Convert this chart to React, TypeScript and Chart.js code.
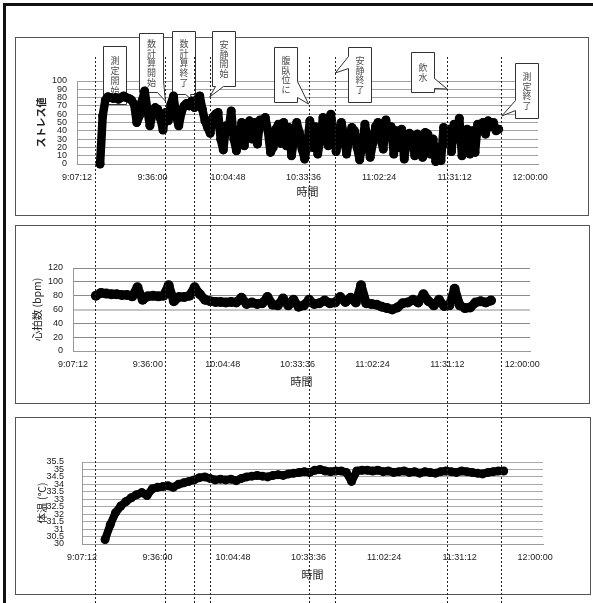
import React, { useEffect, useRef } from 'react';
import { Chart, registerables } from 'chart.js';

Chart.register(...registerables);

// ---------------- data ----------------
const X_TICK_LABELS = ['9:07:12', '9:36:00', '10:04:48', '10:33:36', '11:02:24', '11:31:12', '12:00:00'];
const X_AXIS_START = '9:07:12';
const X_AXIS_END = '12:03:00';
const X_TITLE = '時間';

const STRESS_START = '9:16:00';
const STRESS_STEP_MIN = 1;
const stressValues = [
  0, 58, 77, 81, 80, 79, 80, 78, 80, 82,
  80, 79, 77, 72, 50, 58, 76, 88, 66, 46,
  60, 68, 66, 55, 41, 62, 52, 72, 82, 58,
  46, 62, 70, 73, 70, 76, 68, 78, 82, 66,
  52, 44, 37, 56, 60, 62, 30, 17, 46, 40,
  64, 30, 16, 28, 50, 22, 45, 52, 30, 50,
  24, 53, 48, 56, 40, 14, 20, 42, 48, 25,
  50, 22, 44, 10, 30, 50, 38, 18, 6, 22,
  52, 20, 45, 12, 30, 56, 35, 22, 60, 40,
  15, 28, 50, 35, 12, 30, 44, 40, 20, 5,
  25, 48, 28, 8, 25, 45, 50, 30, 18, 53,
  35, 45, 12, 40, 20, 42, 6, 30, 37, 34,
  10, 36, 33, 8, 38, 36, 12, 30, 3, 20,
  4, 44, 25, 42, 15, 48, 30, 55, 10, 35,
  42, 12, 40, 14, 48, 40, 50, 36, 52, 45,
  50, 40, 42,
];

const HR_START = '9:16:00';
const HR_STEP_MIN = 2;
const heartRateValues = [
  80, 84, 83, 82, 82, 81, 81, 79, 92, 74,
  79, 80, 79, 80, 95, 72, 78, 78, 80, 92,
  82, 74, 72, 71, 71, 70, 71, 70, 77, 68,
  70, 68, 69, 78, 67, 66, 76, 66, 74, 64,
  66, 74, 68, 69, 73, 69, 70, 78, 71, 77,
  70, 95, 69, 68, 67, 64, 62, 60, 63, 69,
  70, 74, 70, 82, 72, 66, 74, 65, 66, 90,
  66, 62, 63, 70, 72, 70, 73,
];

const TEMP_START = '9:16:00';
const TEMP_STEP_MIN = 2;
const temperatureValues = [
  30.3, 31.3, 32.1, 32.55, 32.85, 33.1, 33.3, 33.45, 33.25, 33.7,
  33.8, 33.85, 33.9, 33.8, 34.0, 34.1, 34.2, 34.3, 34.45, 34.5,
  34.4, 34.3, 34.35, 34.3, 34.35, 34.25, 34.4, 34.5, 34.55, 34.6,
  34.55, 34.5, 34.6, 34.65, 34.6, 34.7, 34.75, 34.8, 34.85, 34.8,
  34.95, 35.0, 34.9, 34.85, 34.9, 34.9, 34.8, 34.2, 34.9, 34.95,
  34.95, 34.9, 34.95, 34.85, 34.9, 34.8, 34.85, 34.9, 34.8, 34.85,
  34.75, 34.85, 34.8, 34.75, 34.85, 34.9, 34.85, 34.8, 34.9, 34.85,
  34.8, 34.75, 34.7, 34.8, 34.85, 34.9, 34.9,
];

const STRESS_AXIS = { min: 0, max: 100, step: 10, title: 'ストレス値' };
const HR_AXIS = { min: 0, max: 120, step: 20, title: '心拍数 (bpm)' };
const TEMP_AXIS = { min: 30, max: 35.5, step: 0.5, title: '体温 (℃)' };

const EVENT_TIMES = ['9:14:12', '9:40:54', '9:51:48', '9:57:48', '10:35:30', '10:45:42', '11:28:24', '11:49:00'];
const EVENT_LABELS = ['測定開始', '数計算開始', '数計算終了', '安静開始', '腹臥位に', '安静終了', '飲水', '測定終了'];

// ---------------- layout (page pixels) ----------------
const W = 593;
const H = 603;

const CALLOUT_LAYOUT: any[] = [
  { dx: 7.7, top: 46, w: 23, h: 58, ptr: null, tip: null },
  { dx: -26.3, top: 33, w: 24, h: 59, ptr: { edge: 'br', a: 47, b: 18 }, tip: { dx: 0, y: 101 } },
  { dx: -21.9, top: 31, w: 23, h: 63, ptr: { edge: 'bottom', a: 13, b: 18 }, tip: { dx: -1.5, y: 100 } },
  { dx: 2.3, top: 31, w: 23, h: 55, ptr: { edge: 'bottom', a: 3, b: 11 }, tip: { dx: 0, y: 97 } },
  { dx: -34.5, top: 47, w: 23, h: 55, ptr: { edge: 'right', a: 34, b: 50 }, tip: { dx: 0, y: 104 } },
  { dx: 12.8, top: 47, w: 23, h: 55, ptr: { edge: 'left', a: 9, b: 21 }, tip: { dx: 0, y: 73 } },
  { dx: -36.2, top: 52, w: 23, h: 40, ptr: { edge: 'right', a: 26, b: 36 }, tip: { dx: 0, y: 89 } },
  { dx: 13.7, top: 63, w: 23, h: 55, ptr: { edge: 'left', a: 37, b: 47 }, tip: { dx: 0.5, y: 116 } },
];

const PANELS = {
  stress: {
    plot: { l: 77, t: 81, r: 538, b: 164 },
    box: { l: 15, t: 37, r: 588, b: 215 },
    yTitleX: 41, xTitleY: 192, yTickPad: 10,
    yTitleFont: { size: 10, weight: 'bold' },
    grid: () => '#a3a3a3', gridW: () => 1,
    lineWidth: 8.5, pointRadius: 4.5,
  },
  hr: {
    plot: { l: 73, t: 268, r: 530, b: 351 },
    box: { l: 15, t: 225, r: 589, b: 403 },
    yTitleX: 37, xTitleY: 382, yTickPad: 10,
    yTitleFont: { size: 10.5, weight: 'normal' },
    grid: (v: number) => (v === 60 ? '#c6c6c6' : '#8a8a8a'),
    gridW: (v: number) => (v === 60 ? 2 : 1),
    lineWidth: 9, pointRadius: 5,
  },
  temp: {
    plot: { l: 82, t: 462, r: 543, b: 544 },
    box: { l: 15, t: 417, r: 590, b: 594 },
    yTitleX: 42.5, xTitleY: 575, yTickPad: 18,
    yTitleFont: { size: 10.5, weight: 'normal' },
    grid: () => '#a8a8a8', gridW: () => 1,
    lineWidth: 8, pointRadius: 4.5,
  },
};

// ---------------- helpers ----------------
const toMin = (s: string) => {
  const [h, m, sec] = s.split(':').map(Number);
  return h * 60 + m + (sec || 0) / 60;
};

const seriesPoints = (start: string, step: number, values: number[]) =>
  values.map((v, i) => ({ x: toMin(start) + i * step, y: v }));

const TICK_FONT = { family: '"Liberation Sans", Arial, sans-serif', size: 9 };
const JP_FAMILY = '"Noto Sans CJK JP", "Noto Sans", sans-serif';

function boxPlugin(box: any) {
  return {
    id: 'panelBox',
    beforeDraw(chart: any) {
      const ctx = chart.ctx;
      ctx.save();
      ctx.strokeStyle = '#555';
      ctx.lineWidth = 1;
      ctx.strokeRect(box.l + 0.5, box.t + 0.5, box.r - box.l, box.b - box.t);
      ctx.restore();
    },
  };
}

function drawCallout(ctx: any, evX: number, lay: any, label: string) {
  const L = Math.round(evX + lay.dx) + 0.5;
  const T = lay.top + 0.5;
  const R = L + lay.w;
  const B = T + lay.h;
  const p = lay.ptr;
  const tx = lay.tip ? evX + lay.tip.dx : 0;
  const ty = lay.tip ? lay.tip.y : 0;
  ctx.beginPath();
  ctx.moveTo(L, T);
  ctx.lineTo(R, T);
  if (p && p.edge === 'br') {
    ctx.lineTo(R, T + p.a);
    ctx.lineTo(tx, ty);
    ctx.lineTo(L + p.b, B);
  } else if (p && p.edge === 'right') {
    ctx.lineTo(R, T + p.a);
    ctx.lineTo(tx, ty);
    ctx.lineTo(R, T + p.b);
    ctx.lineTo(R, B);
  } else if (p && p.edge === 'bottom') {
    ctx.lineTo(R, B);
    ctx.lineTo(L + p.b, B);
    ctx.lineTo(tx, ty);
    ctx.lineTo(L + p.a, B);
  } else {
    ctx.lineTo(R, B);
  }
  ctx.lineTo(L, B);
  if (p && p.edge === 'left') {
    ctx.lineTo(L, T + p.b);
    ctx.lineTo(tx, ty);
    ctx.lineTo(L, T + p.a);
  }
  ctx.closePath();
  ctx.fillStyle = '#fff';
  ctx.fill();
  ctx.strokeStyle = '#333';
  ctx.lineWidth = 1;
  ctx.stroke();

  const chars = Array.from(label);
  const pitch = 9.8;
  const cx = L + lay.w / 2;
  const cy = T + lay.h / 2;
  ctx.fillStyle = '#4a4a4a';
  ctx.font = `9px ${JP_FAMILY}`;
  ctx.textAlign = 'center';
  ctx.textBaseline = 'middle';
  chars.forEach((c, k) => {
    ctx.fillText(c, cx, cy + (k - (chars.length - 1) / 2) * pitch);
  });
}

const eventPlugin = {
  id: 'events',
  beforeDraw(chart: any) {
    const ctx = chart.ctx;
    ctx.save();
    ctx.fillStyle = '#111';
    ctx.fillRect(3, 3, W - 3, 3);
    ctx.fillRect(3, 3, 3, H - 3);
    ctx.restore();
  },
  beforeDatasetsDraw(chart: any) {
    const ctx = chart.ctx;
    const xs = chart.scales.x;
    ctx.save();
    EVENT_TIMES.forEach((t, i) => {
      drawCallout(ctx, xs.getPixelForValue(toMin(t)), CALLOUT_LAYOUT[i], EVENT_LABELS[i]);
    });
    ctx.restore();
  },
  afterDraw(chart: any) {
    const ctx = chart.ctx;
    const xs = chart.scales.x;
    ctx.save();
    ctx.strokeStyle = '#222';
    ctx.lineWidth = 1;
    ctx.setLineDash([2, 2]);
    EVENT_TIMES.forEach((t) => {
      const x = Math.round(xs.getPixelForValue(toMin(t))) + 0.5;
      ctx.beginPath();
      ctx.moveTo(x, 57);
      ctx.lineTo(x, H);
      ctx.stroke();
    });
    ctx.restore();
  },
};

function buildConfig(p: any, axis: any, points: any[], extra: any[]) {
  const yLh = p.yTitleFont.size * 1.2;
  const xTitleSize = 11;
  const xLh = xTitleSize * 1.2;
  return {
    type: 'line',
    data: {
      datasets: [
        {
          data: points,
          borderColor: '#000',
          backgroundColor: '#000',
          pointBackgroundColor: '#000',
          pointBorderColor: '#000',
          pointBorderWidth: 0,
          borderWidth: p.lineWidth,
          pointRadius: p.pointRadius,
          tension: 0,
          clip: false,
          borderJoinStyle: 'round',
          borderCapStyle: 'round',
        },
      ],
    },
    options: {
      animation: false,
      responsive: false,
      maintainAspectRatio: false,
      devicePixelRatio: 1,
      events: [],
      layout: {
        padding: { left: p.box.l, top: p.plot.t, right: W - p.plot.r, bottom: H - p.box.b },
      },
      plugins: { legend: { display: false }, tooltip: { enabled: false }, title: { display: false } },
      scales: {
        x: {
          type: 'linear',
          min: toMin(X_AXIS_START),
          max: toMin(X_AXIS_END),
          afterFit: (s: any) => { s.height = p.box.b - p.plot.b; },
          afterBuildTicks: (s: any) => { s.ticks = X_TICK_LABELS.map((l) => ({ value: toMin(l) })); },
          grid: { display: false, drawTicks: false },
          border: { display: true, color: '#999', width: 1 },
          ticks: {
            autoSkip: false, maxRotation: 0, minRotation: 0, padding: 8,
            font: TICK_FONT, color: '#222',
            callback: (_v: any, i: number) => X_TICK_LABELS[i],
          },
          title: {
            display: true, text: X_TITLE, color: '#222',
            font: { family: JP_FAMILY, size: xTitleSize },
            padding: { top: 0, bottom: p.box.b - p.xTitleY - xLh / 2 },
          },
        },
        y: {
          type: 'linear',
          min: axis.min,
          max: axis.max,
          afterFit: (s: any) => { s.width = p.plot.l - p.box.l; },
          ticks: {
            stepSize: axis.step, autoSkip: false, padding: p.yTickPad, font: TICK_FONT, color: '#222',
            callback: (v: any) => String(Number(Number(v).toFixed(2))),
          },
          grid: {
            drawTicks: false,
            color: (c: any) => p.grid(c.tick ? c.tick.value : 0),
            lineWidth: (c: any) => p.gridW(c.tick ? c.tick.value : 0),
          },
          border: { display: true, color: '#999', width: 1 },
          title: {
            display: true, text: axis.title, color: '#222',
            font: { family: JP_FAMILY, size: p.yTitleFont.size, weight: p.yTitleFont.weight },
            padding: { top: p.yTitleX - p.box.l - yLh / 2, bottom: 0 },
          },
        },
      },
    },
    plugins: [boxPlugin(p.box), ...extra],
  };
}

export default function App() {
  const c1 = useRef<HTMLCanvasElement>(null);
  const c2 = useRef<HTMLCanvasElement>(null);
  const c3 = useRef<HTMLCanvasElement>(null);

  useEffect(() => {
    const charts: Chart[] = [];
    if (c3.current) {
      charts.push(new Chart(c3.current, buildConfig(PANELS.temp, TEMP_AXIS,
        seriesPoints(TEMP_START, TEMP_STEP_MIN, temperatureValues), []) as any));
    }
    if (c2.current) {
      charts.push(new Chart(c2.current, buildConfig(PANELS.hr, HR_AXIS,
        seriesPoints(HR_START, HR_STEP_MIN, heartRateValues), []) as any));
    }
    if (c1.current) {
      charts.push(new Chart(c1.current, buildConfig(PANELS.stress, STRESS_AXIS,
        seriesPoints(STRESS_START, STRESS_STEP_MIN, stressValues), [eventPlugin]) as any));
    }
    return () => charts.forEach((c) => c.destroy());
  }, []);

  const cs: React.CSSProperties = { position: 'absolute', left: 0, top: 0, width: W, height: H };
  return (
    <div style={{ position: 'absolute', left: 0, top: 0, width: W, height: H, background: '#fff', overflow: 'hidden' }}>
      <canvas ref={c3} width={W} height={H} style={{ ...cs, zIndex: 1 }} />
      <canvas ref={c2} width={W} height={H} style={{ ...cs, zIndex: 2 }} />
      <canvas ref={c1} width={W} height={H} style={{ ...cs, zIndex: 3 }} />
    </div>
  );
}
